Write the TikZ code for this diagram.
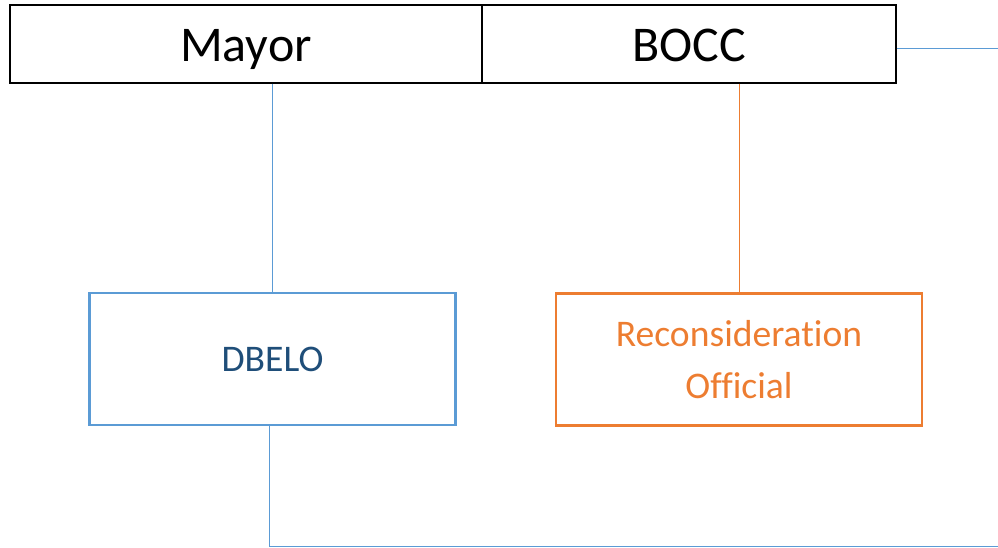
\documentclass[tikz,border=0pt]{standalone}
\usepackage{fontspec}
\setmainfont{Carlito}[Ligatures=NoCommon]
\definecolor{lineblue}{RGB}{91,155,213}
\definecolor{textblue}{RGB}{31,78,121}
\definecolor{accorange}{RGB}{237,125,49}
\usetikzlibrary{positioning}

\begin{document}
\begin{tikzpicture}[
  x=1pt, y=-1pt,
  top/.style={rectangle, draw=black, line width=1.3pt, minimum height=78pt,
              inner sep=0pt, text height=35pt, text depth=0pt,
              font=\fontsize{50}{56}\selectfont},
  unit/.style={rectangle, line width=2.2pt, minimum width=366pt, minimum height=132pt,
               align=center, inner sep=0pt, font=\fontsize{37.6}{52}\selectfont},
  link/.style={line width=1pt, draw=lineblue}
]
\useasboundingbox (0,0) rectangle (998,547);

\node[top, minimum width=472pt] (mayor) at (246,44) {Mayor};
\node[top, minimum width=414pt] (bocc) at (689,44) {BOCC};
\node[unit, draw=lineblue, text=textblue] (dbelo) at (272.5,359) {DBELO};
\node[unit, draw=accorange, text=accorange] (recon) at (739,359.5) {Reconsideration\\Official};

\coordinate (outtop) at (998,48);
\coordinate (outbot) at (998,546);

\draw[link] (mayor.south -| dbelo.north) -- (dbelo.north);
\draw[link, draw=accorange] (bocc.south -| recon.north) -- (recon.north);
\draw[link] (bocc.east |- outtop) -- (outtop);

% exit from DBELO along the bottom
\draw[link] ([xshift=-3pt]dbelo.south) |- (outbot);
\end{tikzpicture}
\end{document}
